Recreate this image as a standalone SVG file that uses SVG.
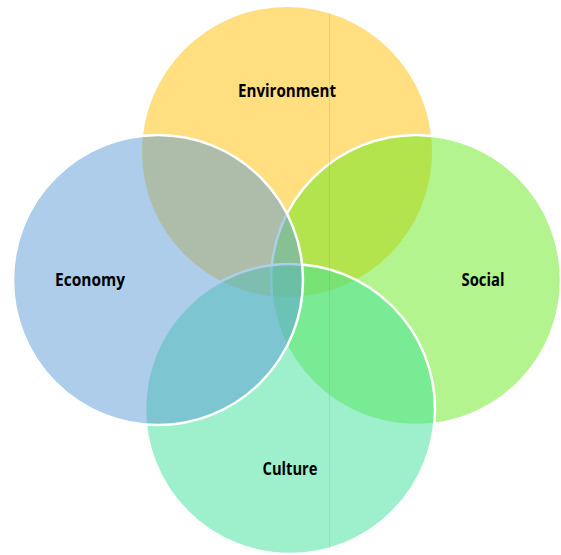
<svg xmlns="http://www.w3.org/2000/svg" width="561" height="555" viewBox="0 0 561 555">
  <style>
    .ring { fill-opacity: 0.5; }
    .edged { stroke: #ffffff; stroke-width: 2.5; }
    .label { font-family: "Open Sans", "Noto Sans", "DejaVu Sans", sans-serif; font-weight: bold; font-size: 17px; fill: #000000; text-anchor: middle; }
  </style>
  <rect width="561" height="555" fill="#ffffff"/>

  <!-- Venn circles, half-transparent, later ones drawn over earlier ones -->
  <g id="environment">
    <circle class="ring" cx="287" cy="152" r="145" fill="#FFC000"/>
  </g>
  <g id="social">
    <circle class="ring edged" cx="416" cy="280" r="145" fill="#68E91E"/>
  </g>
  <g id="culture">
    <circle class="ring edged" cx="290" cy="409" r="145" fill="#3DE199"/>
  </g>
  <g id="economy">
    <circle class="ring edged" cx="158" cy="280" r="145" fill="#5B9BD5"/>
  </g>

  <!-- thin vertical guide running through the circles -->
  <g id="connectors">
    <line x1="329.5" y1="13.5" x2="329.5" y2="548" stroke="#786400" stroke-opacity="0.14" stroke-width="1"/>
  </g>

  <g id="labels">
    <text class="label" x="287" y="97" textLength="98" lengthAdjust="spacingAndGlyphs">Environment</text>
    <text class="label" x="90" y="286" textLength="70" lengthAdjust="spacingAndGlyphs">Economy</text>
    <text class="label" x="483" y="286" textLength="43" lengthAdjust="spacingAndGlyphs">Social</text>
    <text class="label" x="290" y="475" textLength="55" lengthAdjust="spacingAndGlyphs">Culture</text>
  </g>
</svg>
